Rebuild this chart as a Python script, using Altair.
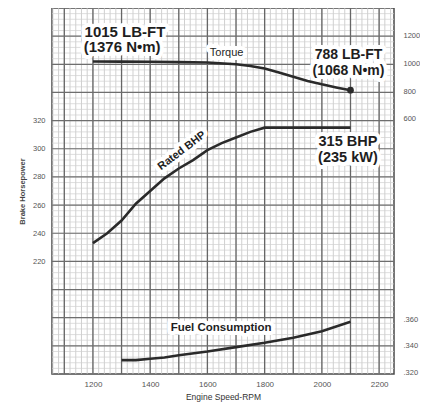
import altair as alt
import pandas as pd
import numpy as np

# ---- data ----
rpm_torque = [1200, 1300, 1400, 1500, 1600, 1700, 1750, 1800, 1850, 1900, 1950, 2000, 2050, 2100]
torque = [1015, 1014, 1013, 1011, 1008, 995, 983, 965, 935, 905, 875, 850, 828, 808]

rpm_bhp = [1200, 1250, 1300, 1350, 1400, 1450, 1500, 1550, 1600, 1650, 1700, 1750, 1800, 1900, 2000, 2100]
bhp = [233, 240, 249, 261, 270, 279, 286, 292, 299, 304, 308, 312, 315, 315, 315, 315]

rpm_fuel = [1300, 1350, 1400, 1450, 1500, 1600, 1700, 1800, 1900, 2000, 2100]
fuel = [0.329, 0.329, 0.330, 0.331, 0.3327, 0.3355, 0.3388, 0.3421, 0.3459, 0.3507, 0.358]

x_ticks = [1200, 1400, 1600, 1800, 2000, 2200]
hp_ticks = [220, 240, 260, 280, 300, 320]
torque_ticks = [600, 800, 1000, 1200]
fuel_ticks = [0.32, 0.34, 0.36]

ann_text = ["1015 LB-FT", "(1376 N\u2022m)", "Torque", "788 LB-FT", "(1068 N\u2022m)",
            "315 BHP", "(235 kW)", "Rated BHP", "Fuel Consumption"]
ann_rpm = [1312, 1302, 1667, 2093, 2093, 2091, 2091, 1511, 1648]
ann_hp = [383.3, 372.3, 368.0, 366.6, 355.2, 304.8, 293.4, 298.5, 172.7]
ann_size = [15, 15, 11, 14, 14, 14.5, 14.5, 11, 11.5]
ann_weight = ["bold", "bold", "normal", "bold", "bold", "bold", "bold", "bold", "bold"]
ann_angle = [0, 0, 0, 0, 0, 0, 0, 323, 0]

# ---- scales ----
X_DOM = [1057, 2252]
HP_DOM = [140, 400]
TQ_DOM = [-1244, 1402]
FUEL_DOM = [0.3185, 0.5947]

FONT = "Liberation Sans"
INK = "#2a2a2a"

xs = alt.Scale(domain=X_DOM, nice=False, zero=False)
hps = alt.Scale(domain=HP_DOM, nice=False, zero=False)
tqs = alt.Scale(domain=TQ_DOM, nice=False, zero=False)
fus = alt.Scale(domain=FUEL_DOM, nice=False, zero=False)

x_axis = alt.Axis(values=x_ticks, format="d", title="Engine Speed-RPM", grid=False, ticks=False,
                  domain=False, labelFontSize=8, labelColor="#555", labelPadding=6, labelFont=FONT,
                  titleFontSize=8.5, titleColor="#333", titleFontWeight="normal", titlePadding=4,
                  titleFont=FONT)
hp_axis = alt.Axis(values=hp_ticks, format="d", title="Brake Horsepower", orient="left", grid=False,
                   ticks=False, domain=False, labelFontSize=7.5, labelColor="#555", labelPadding=7,
                   labelFont=FONT, titleFontSize=7.5, titleColor="#444", titleFontWeight="bold",
                   titlePadding=6, titleFont=FONT)
tq_axis = alt.Axis(values=torque_ticks, format="d", title=None, orient="right", grid=False, ticks=False,
                   domain=False, labelFontSize=7.5, labelColor="#555", labelPadding=9, labelFont=FONT)
fu_axis = alt.Axis(values=fuel_ticks, title=None, orient="right", grid=False, ticks=False,
                   domain=False, labelFontSize=7.5, labelColor="#555", labelPadding=9, labelFont=FONT,
                   labelExpr="'.' + format(round(datum.value * 1000), 'd')")

X = alt.X("rpm:Q", scale=xs, axis=x_axis)
Yhp = alt.Y("hp:Q", scale=hps, axis=hp_axis)

# ---- grid paper ----
vminor = pd.DataFrame({"rpm": np.arange(1060, 2252, 20)})
vmajor = pd.DataFrame({"rpm": np.arange(1100, 2252, 100)})
hminor = pd.DataFrame({"hp": np.arange(144, 400, 4)})
hmajor = pd.DataFrame({"hp": np.arange(160, 400, 20)})

g1 = alt.Chart(vminor).mark_rule(color="#c4c4c4", strokeWidth=0.8).encode(x=X)
g2 = alt.Chart(hminor).mark_rule(color="#d0d0d0", strokeWidth=0.7).encode(y=Yhp)
g3 = alt.Chart(vmajor).mark_rule(color="#666666", strokeWidth=1.3).encode(x=X)
g4 = alt.Chart(hmajor).mark_rule(color="#6e6e6e", strokeWidth=1.2).encode(y=Yhp)

bhp_df = pd.DataFrame({"rpm": rpm_bhp, "hp": bhp})
bhp_line = alt.Chart(bhp_df).mark_line(color=INK, strokeWidth=2.6).encode(x=X, y=Yhp)

layers = [g1, g2, g3, g4, bhp_line]

ann_df = pd.DataFrame({"rpm": ann_rpm, "hp": ann_hp, "text": ann_text})
halos = []
texts = []
for i in range(len(ann_text)):
    row = ann_df.iloc[[i]]
    common = dict(font=FONT, fontSize=ann_size[i], fontWeight=ann_weight[i], angle=ann_angle[i],
                  align="center", baseline="middle")
    halos.append(alt.Chart(row).mark_text(stroke="white", strokeWidth=8, strokeJoin="round",
                                          fill="white", **common)
                 .encode(x=X, y=Yhp, text="text:N"))
    texts.append(alt.Chart(row).mark_text(fill="#1e1e1e", **common)
                 .encode(x=X, y=Yhp, text="text:N"))

hp_group = alt.layer(*(layers + halos + texts))

tq_df = pd.DataFrame({"rpm": rpm_torque, "tq": torque})
Ytq = alt.Y("tq:Q", scale=tqs, axis=tq_axis)
tq_line = alt.Chart(tq_df).mark_line(color=INK, strokeWidth=2.6).encode(x=X, y=Ytq)
tq_end = alt.Chart(tq_df.iloc[[-1]]).mark_point(filled=True, color=INK, size=45, opacity=1).encode(x=X, y=Ytq)
tq_group = alt.layer(tq_line, tq_end)

fu_df = pd.DataFrame({"rpm": rpm_fuel, "fuel": fuel})
fu_line = alt.Chart(fu_df).mark_line(color=INK, strokeWidth=2.6).encode(
    x=X, y=alt.Y("fuel:Q", scale=fus, axis=fu_axis))

chart = alt.layer(hp_group, tq_group, fu_line).resolve_scale(y="independent").properties(
    width=342, height=366,
    padding={"left": 44, "top": 0, "right": 26, "bottom": 32},
    autosize=alt.AutoSizeParams(type="none"),
    background="white",
).configure_view(stroke="#4a4a4a", strokeWidth=1.5)

chart.save("out.html", embed_options={"renderer": "svg", "actions": False})
